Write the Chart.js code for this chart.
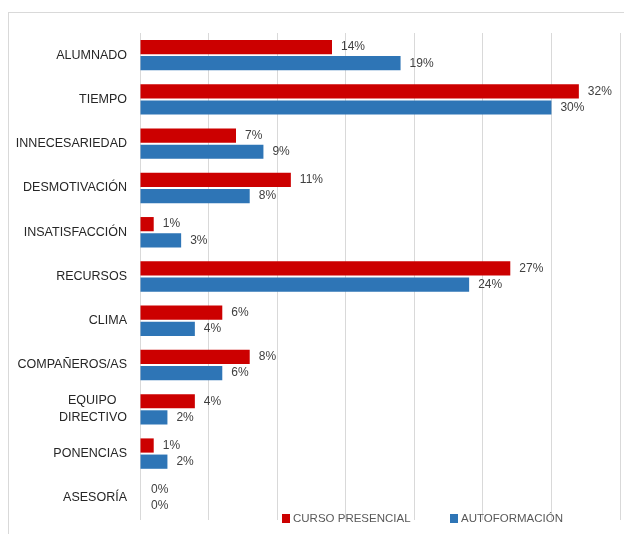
<!DOCTYPE html>
<html>
<head>
<meta charset="utf-8">
<script src="https://cdn.jsdelivr.net/npm/chart.js@4/dist/chart.umd.min.js"></script>
<style>
  html, body { margin: 0; padding: 0; background: #ffffff; }
  #wrap { position: relative; width: 624px; height: 534px; overflow: hidden; }
  #frame { position: absolute; left: 8px; top: 12px; width: 640px; height: 560px;
           border: 1px solid #d9d9d9; box-sizing: border-box; }
  canvas { position: absolute; left: 0; top: 0; }
</style>
</head>
<body>
<div id="wrap">
  <div id="frame"></div>
  <canvas id="c" width="624" height="534"></canvas>
</div>
<script>
// Categories (top to bottom); the two-line label keeps its first line centred over the second
const categories = [
  'ALUMNADO', 'TIEMPO', 'INNECESARIEDAD', 'DESMOTIVACIÓN', 'INSATISFACCIÓN',
  'RECURSOS', 'CLIMA', 'COMPAÑEROS/AS', ['EQUIPO\u00a0\u00a0\u00a0', 'DIRECTIVO'], 'PONENCIAS', 'ASESORÍA'
];
// Percentages per course type
const presencial    = [14, 32, 7, 11, 1, 27, 6, 8, 4, 1, 0];
const autoformacion = [19, 30, 9, 8, 3, 24, 4, 6, 2, 2, 0];
const seriesNames = ['CURSO PRESENCIAL', 'AUTOFORMACIÓN'];
const seriesColors = ['#cc0000', '#2e75b6'];
const axisMax = 35;
const gridStep = 5;

const FONT = '"Liberation Sans", Arial, sans-serif';

// Percentage labels at the end of each bar
const valueLabels = {
  id: 'valueLabels',
  afterDatasetsDraw(chart) {
    const ctx = chart.ctx;
    ctx.save();
    ctx.font = '12px ' + FONT;
    ctx.fillStyle = '#404040';
    ctx.textAlign = 'left';
    ctx.textBaseline = 'middle';
    chart.data.datasets.forEach((ds, di) => {
      const meta = chart.getDatasetMeta(di);
      meta.data.forEach((bar, i) => {
        const off = ds.data[i] === 0 ? 11 : 9;
        ctx.fillText(ds.data[i] + '%', bar.x + off, bar.y);
      });
    });
    ctx.restore();
  }
};

// Legend drawn across the bottom of the plot
const bottomLegend = {
  id: 'bottomLegend',
  afterDraw(chart) {
    const ctx = chart.ctx;
    const y = 519;
    const starts = [282, 450];
    ctx.save();
    ctx.font = '11.5px ' + FONT;
    ctx.textBaseline = 'middle';
    ctx.textAlign = 'left';
    chart.data.datasets.forEach((ds, di) => {
      const x = starts[di];
      ctx.fillStyle = ds.backgroundColor;
      ctx.fillRect(x, y - 5, 8, 9);
      ctx.fillStyle = '#595959';
      ctx.fillText(ds.label, x + 11, y);
    });
    ctx.restore();
  }
};

new Chart(document.getElementById('c'), {
  type: 'bar',
  data: {
    labels: categories,
    datasets: [
      { label: seriesNames[0], data: presencial, backgroundColor: seriesColors[0],
        categoryPercentage: 0.73, barPercentage: 0.88 },
      { label: seriesNames[1], data: autoformacion, backgroundColor: seriesColors[1],
        categoryPercentage: 0.73, barPercentage: 0.88 }
    ]
  },
  options: {
    indexAxis: 'y',
    responsive: false,
    animation: false,
    devicePixelRatio: 1,
    layout: { padding: { left: 0, top: 33, right: 4, bottom: 14 } },
    plugins: {
      legend: { display: false },
      tooltip: { enabled: false }
    },
    scales: {
      x: {
        min: 0,
        max: axisMax,
        ticks: { display: false, stepSize: gridStep },
        grid: { color: '#d9d9d9', lineWidth: 1, drawTicks: false },
        border: { display: false },
        afterFit(scale) { scale.height = 0; }
      },
      y: {
        grid: { display: false, drawTicks: false },
        border: { display: false },
        ticks: {
          padding: 13,
          color: '#262626',
          font: { family: FONT, size: 12.5, lineHeight: 1.35 }
        },
        afterFit(scale) {
          scale.width = 140;
          scale.paddingTop = 0;
          scale.paddingBottom = 0;
        }
      }
    }
  },
  plugins: [valueLabels, bottomLegend]
});
</script>
</body>
</html>
